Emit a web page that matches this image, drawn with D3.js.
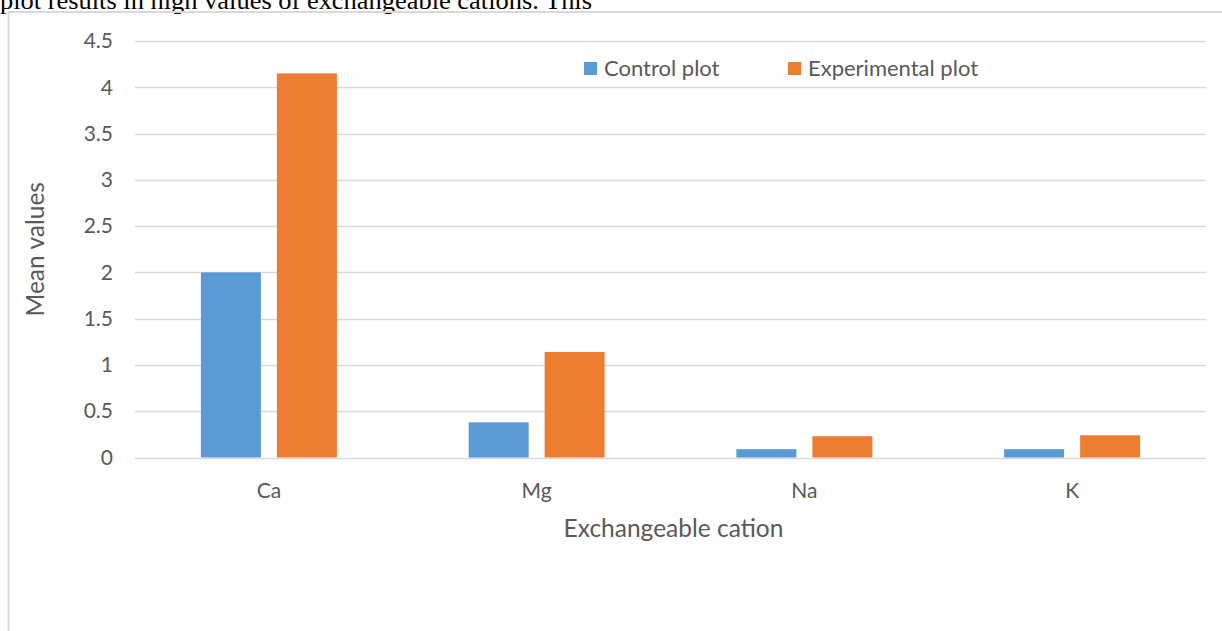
<!DOCTYPE html>
<html>
<head>
<meta charset="utf-8">
<script src="https://cdn.jsdelivr.net/npm/d3@7"></script>
<style>
  html, body { margin: 0; padding: 0; background: #fff; overflow: hidden; }
  svg { display: block; }
</style>
</head>
<body>
<svg id="chart" width="1222" height="631"></svg>
<script>
// Exchangeable cations: mean values for control and experimental plots
const categories = ["Ca", "Mg", "Na", "K"];
const seriesNames = ["Control plot", "Experimental plot"];
const controlValues = [2.0, 0.38, 0.09, 0.09];
const experimentalValues = [4.15, 1.14, 0.23, 0.24];
const yTicks = [0, 0.5, 1, 1.5, 2, 2.5, 3, 3.5, 4, 4.5];
const yTickLabels = ["0", "0.5", "1", "1.5", "2", "2.5", "3", "3.5", "4", "4.5"];
const seriesColors = ["#5b9bd5", "#ed7d31"];

const data = categories.map((c, i) => ({
  category: c,
  values: [controlValues[i], experimentalValues[i]]
}));

const svg = d3.select("#chart");
const font = "Lato, 'Open Sans', sans-serif";
const textColor = "#595959";
const gridColor = "#d9d9d9";

// Surrounding body text line partly visible above the chart frame
svg.append("text")
  .attr("x", 0).attr("y", 9)
  .attr("font-family", "'Liberation Serif', 'Times New Roman', serif")
  .attr("font-size", 26)
  .attr("fill", "#000")
  .attr("textLength", 592)
  .attr("lengthAdjust", "spacingAndGlyphs")
  .text("plot results in high values of exchangeable cations. This");

// Chart frame
svg.append("path")
  .attr("d", "M8.5,640 V12 H1230")
  .attr("fill", "none")
  .attr("stroke", gridColor)
  .attr("stroke-width", 2);

const plot = { left: 135, right: 1206, top: 41, bottom: 457.5 };

const x0 = d3.scaleBand()
  .domain(categories)
  .range([plot.left, plot.right])
  .paddingInner(0).paddingOuter(0);

const y = d3.scaleLinear()
  .domain([0, 4.5])
  .range([plot.bottom, plot.top]);

// Bars: width 60 each with 16px gap, centred within each category
const barW = 60, barGap = 16;
const x1 = i => (x0.bandwidth() - (2 * barW + barGap)) / 2 + i * (barW + barGap);

// Gridlines
svg.append("g")
  .selectAll("line")
  .data(yTicks)
  .join("line")
  .attr("x1", plot.left).attr("x2", plot.right)
  .attr("y1", d => Math.round(y(d)) + 0.5).attr("y2", d => Math.round(y(d)) + 0.5)
  .attr("stroke", gridColor)
  .attr("stroke-width", 1.5);

// Y axis tick labels
const yAxis = d3.axisLeft(y)
  .tickValues(yTicks)
  .tickFormat((d, i) => yTickLabels[i])
  .tickSize(0)
  .tickPadding(0);

const yg = svg.append("g")
  .attr("transform", `translate(113,0)`)
  .call(yAxis);
yg.select(".domain").remove();
yg.selectAll("text")
  .attr("font-family", font)
  .attr("font-size", 21)
  .attr("fill", textColor);

// Bars
const groups = svg.append("g")
  .selectAll("g")
  .data(data)
  .join("g")
  .attr("transform", d => `translate(${x0(d.category)},0)`);

groups.selectAll("rect")
  .data(d => d.values.map((v, i) => ({ v, i })))
  .join("rect")
  .attr("x", d => x1(d.i))
  .attr("width", barW)
  .attr("y", d => y(d.v))
  .attr("height", d => y(0) - y(d.v))
  .attr("fill", d => seriesColors[d.i]);

// X axis category labels
const xAxis = d3.axisBottom(x0).tickSize(0).tickPadding(0);
const xg = svg.append("g")
  .attr("transform", `translate(0,${plot.bottom})`)
  .call(xAxis);
xg.select(".domain").remove();
xg.selectAll("text")
  .attr("dy", null)
  .attr("y", 40)
  .attr("font-family", font)
  .attr("font-size", 21)
  .attr("fill", textColor);

// Axis titles
svg.append("text")
  .attr("x", (plot.left + plot.right) / 2 + 3)
  .attr("y", 536.5)
  .attr("text-anchor", "middle")
  .attr("font-family", font)
  .attr("font-size", 24.5)
  .attr("fill", textColor)
  .text("Exchangeable cation");

svg.append("text")
  .attr("transform", `translate(44,${(plot.top + plot.bottom) / 2}) rotate(-90)`)
  .attr("text-anchor", "middle")
  .attr("font-family", font)
  .attr("font-size", 24.5)
  .attr("fill", textColor)
  .text("Mean values");

// Legend
const legendItems = [
  { name: seriesNames[0], color: seriesColors[0], x: 584 },
  { name: seriesNames[1], color: seriesColors[1], x: 788 }
];
const lg = svg.append("g")
  .selectAll("g")
  .data(legendItems)
  .join("g")
  .attr("transform", d => `translate(${d.x},62)`);
lg.append("rect")
  .attr("width", 13).attr("height", 13)
  .attr("fill", d => d.color);
lg.append("text")
  .attr("x", 20).attr("y", 6.5)
  .attr("dy", "0.35em")
  .attr("font-family", font)
  .attr("font-size", 22)
  .attr("fill", textColor)
  .text(d => d.name);
</script>
</body>
</html>
